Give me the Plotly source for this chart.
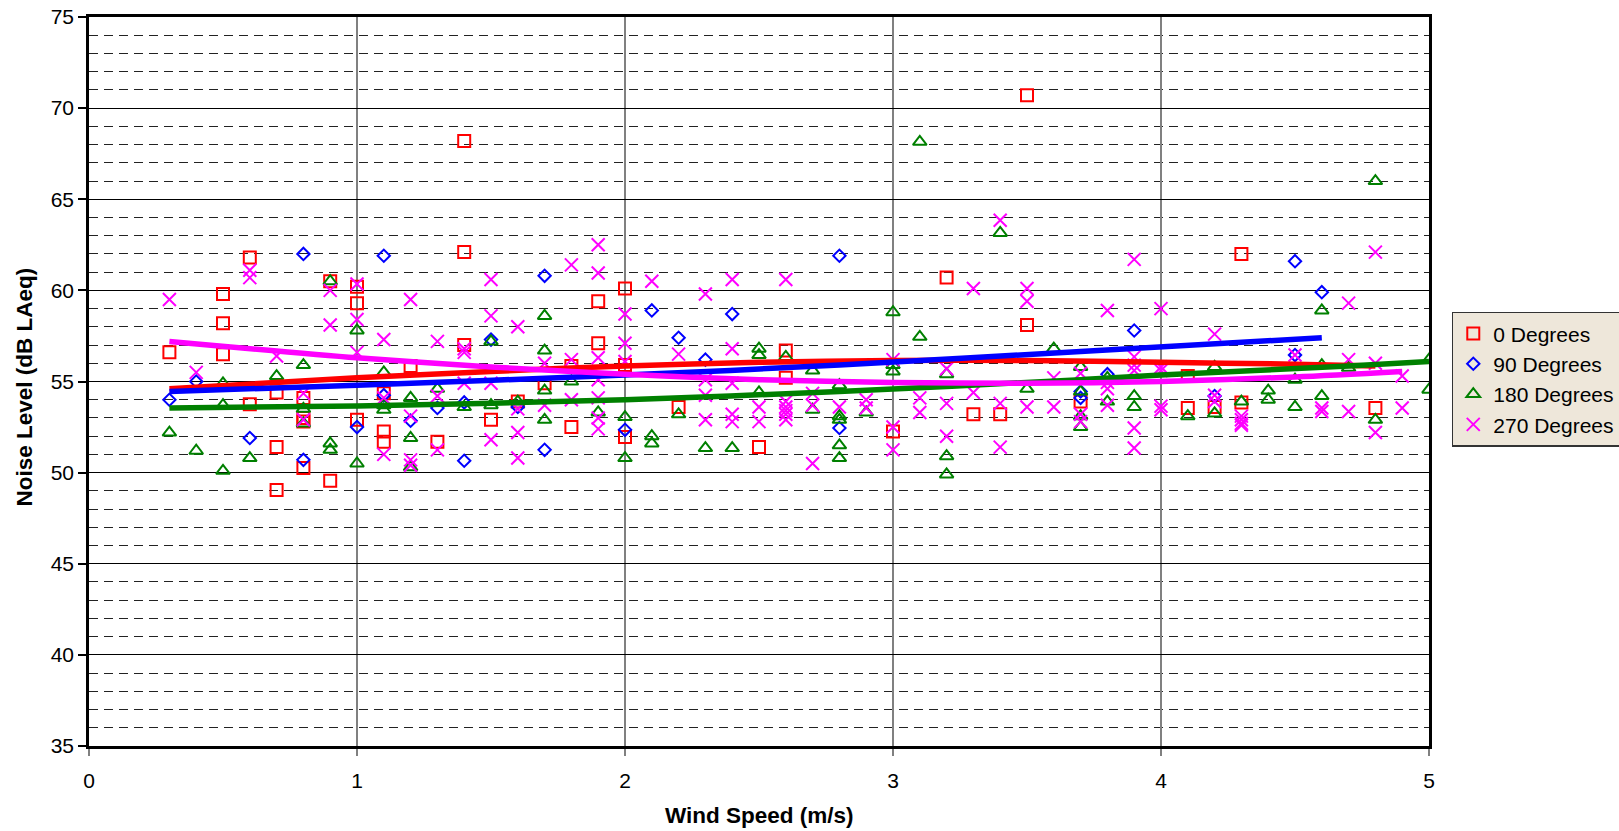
import plotly.graph_objects as go

# ---------------- data ----------------
deg0_x = [0.3, 0.5, 0.5, 0.5, 0.6, 0.6, 0.7, 0.7, 0.7, 0.8, 0.8, 0.8, 0.8, 0.9, 0.9,
          1.0, 1.0, 1.0, 1.1, 1.1, 1.1, 1.2, 1.3, 1.4, 1.4, 1.4, 1.5, 1.6, 1.7, 1.8, 1.8,
          1.9, 1.9, 2.0, 2.0, 2.0, 2.2, 2.5, 2.6, 2.6, 3.0, 3.2, 3.3, 3.4, 3.5, 3.5, 3.7,
          4.1, 4.1, 4.2, 4.3, 4.3, 4.8]
deg0_y = [56.6, 59.8, 58.2, 56.5, 61.8, 53.75, 54.4, 51.4, 49.05, 54.1, 53.0, 52.8, 50.25, 60.5, 49.55,
          60.2, 59.3, 52.9, 54.35, 52.25, 51.7, 55.85, 51.7, 68.2, 62.1, 57.0, 52.9, 53.9, 54.9, 55.85, 52.5,
          59.4, 57.1, 60.1, 55.9, 51.95, 53.6, 51.4, 56.7, 55.2, 52.25, 60.7, 53.2, 53.2, 70.7, 58.1, 53.9,
          55.3, 53.55, 53.6, 62.0, 53.85, 53.55]

deg90_x = [0.3, 0.4, 0.6, 0.8, 0.8, 1.0, 1.1, 1.1, 1.2, 1.3, 1.4, 1.4, 1.5, 1.6, 1.7, 1.7,
           2.0, 2.1, 2.2, 2.3, 2.4, 2.8, 2.8, 3.7, 3.7, 3.8, 3.9, 4.2, 4.5, 4.5, 4.6]
deg90_y = [54.0, 55.0, 51.9, 62.0, 50.7, 52.5, 61.9, 54.25, 52.85, 53.55, 53.85, 50.65, 57.3, 53.6, 60.8, 51.25,
           52.35, 58.9, 57.4, 56.2, 58.7, 61.9, 52.45, 54.45, 54.1, 55.4, 57.8, 54.2, 61.6, 56.45, 59.9]

deg180_x = [0.3, 0.4, 0.5, 0.5, 0.5, 0.6, 0.7, 0.8, 0.8, 0.8, 0.9, 0.9, 0.9, 1.0, 1.0,
            1.1, 1.1, 1.1, 1.2, 1.2, 1.2, 1.3, 1.4, 1.5, 1.5, 1.6, 1.7, 1.7, 1.7, 1.7, 1.8,
            1.9, 2.0, 2.0, 2.1, 2.1, 2.2, 2.3, 2.4, 2.5, 2.5, 2.5, 2.6, 2.7, 2.7,
            2.8, 2.8, 2.8, 2.8, 2.8, 2.9, 3.0, 3.0, 3.0, 3.1, 3.1, 3.2, 3.2, 3.2, 3.4, 3.5, 3.6,
            3.7, 3.7, 3.7, 3.7, 3.8, 3.8, 3.9, 3.9, 4.1, 4.2, 4.2, 4.3, 4.4, 4.4, 4.5, 4.5,
            4.6, 4.6, 4.6, 4.7, 4.8, 4.8, 5.0, 5.0]
deg180_y = [52.2, 51.2, 54.9, 53.7, 50.1, 50.8, 55.3, 55.9, 53.5, 52.7, 60.5, 51.6, 51.25, 57.8, 50.5,
            55.5, 53.7, 53.45, 54.1, 51.9, 50.3, 54.6, 53.6, 57.2, 53.7, 53.9, 58.6, 56.7, 54.5, 52.9, 55.0,
            53.3, 53.05, 50.8, 52.0, 51.6, 53.2, 51.35, 51.35, 56.8, 56.45, 54.4, 56.35, 55.6, 53.45,
            54.8, 53.1, 52.9, 51.5, 50.8, 53.3, 58.8, 55.9, 55.55, 68.15, 57.45, 55.4, 50.9, 49.9, 63.15, 54.6, 56.8,
            55.8, 54.45, 53.1, 52.5, 55.2, 53.9, 54.2, 53.6, 53.1, 55.8, 53.25, 53.9, 54.5, 54.0, 55.1, 53.6,
            58.9, 55.9, 54.2, 55.75, 66.0, 52.9, 56.2, 54.55]

deg270_x = [0.3, 0.4, 0.6, 0.6, 0.7, 0.8, 0.8, 0.9, 0.9, 1.0, 1.0, 1.0, 1.1, 1.1, 1.1,
            1.2, 1.2, 1.2, 1.2, 1.3, 1.3, 1.3, 1.4, 1.4, 1.4, 1.5, 1.5, 1.5, 1.5,
            1.6, 1.6, 1.6, 1.6, 1.7, 1.7, 1.8, 1.8, 1.8, 1.9, 1.9, 1.9, 1.9, 1.9, 1.9, 1.9,
            2.0, 2.0, 2.0, 2.1, 2.2, 2.3, 2.3, 2.3, 2.3, 2.4, 2.4, 2.4, 2.4, 2.4, 2.5, 2.5,
            2.6, 2.6, 2.6, 2.6, 2.6, 2.6, 2.7, 2.7, 2.7, 2.8, 2.9, 2.9, 3.0, 3.0, 3.0,
            3.1, 3.1, 3.2, 3.2, 3.2, 3.3, 3.3, 3.4, 3.4, 3.4, 3.5, 3.5, 3.5, 3.6, 3.6,
            3.7, 3.7, 3.7, 3.8, 3.8, 3.8, 3.8, 3.9, 3.9, 3.9, 3.9, 3.9, 3.9,
            4.0, 4.0, 4.0, 4.0, 4.0, 4.2, 4.2, 4.2, 4.3, 4.3, 4.3, 4.3, 4.5, 4.6, 4.6,
            4.7, 4.7, 4.7, 4.8, 4.8, 4.8, 4.9, 4.9]
deg270_y = [59.5, 55.5, 61.1, 60.7, 56.4, 54.35, 52.9, 60.0, 58.1, 60.35, 58.4, 56.6, 57.3, 54.1, 51.0,
            59.5, 53.1, 50.7, 50.4, 57.2, 54.2, 51.25, 56.8, 56.6, 54.9, 60.6, 58.6, 54.9, 51.8,
            58.0, 53.5, 52.2, 50.8, 56.0, 53.7, 61.4, 56.2, 54.0, 62.5, 60.95, 56.3, 55.1, 54.1, 53.0, 52.4,
            58.7, 57.1, 56.1, 60.5, 56.5, 59.8, 55.1, 54.25, 52.9, 60.6, 56.8, 54.9, 53.2, 52.8, 53.6, 52.8,
            60.6, 53.9, 53.6, 53.4, 53.2, 52.9, 54.35, 53.7, 50.5, 53.6, 54.0, 53.55, 56.2, 52.5, 51.25,
            54.1, 53.3, 55.7, 53.8, 52.0, 60.1, 54.4, 63.85, 53.8, 51.4, 60.1, 59.4, 53.6, 55.2, 53.6,
            55.45, 53.2, 52.8, 58.9, 54.95, 54.6, 53.7, 61.7, 56.35, 55.9, 55.6, 52.45, 51.35,
            59.0, 55.8, 55.6, 53.65, 53.45, 57.6, 54.25, 53.9, 53.1, 52.9, 52.7, 52.6, 56.45, 53.55, 53.35,
            59.3, 56.2, 53.35, 62.1, 56.0, 52.2, 55.3, 53.55]

# trend lines
trend0_x = [0.3, 1.0, 1.5, 2.0, 2.5, 3.0, 3.5, 4.0, 4.5, 4.8]
trend0_y = [54.6, 55.2, 55.55, 55.85, 56.05, 56.15, 56.15, 56.05, 55.95, 55.85]
trend90_x = [0.3, 1.0, 2.0, 2.8, 3.7, 4.6]
trend90_y = [54.45, 54.8, 55.35, 55.9, 56.65, 57.4]
trend180_x = [0.3, 1.0, 2.0, 2.8, 3.7, 4.0, 4.7, 5.0]
trend180_y = [53.55, 53.65, 54.0, 54.45, 55.1, 55.35, 55.85, 56.1]
trend270_x = [0.3, 1.0, 1.5, 2.0, 2.5, 3.0, 3.5, 4.0, 4.5, 4.9]
trend270_y = [57.2, 56.3, 55.8, 55.4, 55.1, 54.95, 54.9, 55.0, 55.25, 55.55]

series_names = ["0 Degrees", "90 Degrees", "180 Degrees", "270 Degrees"]
x_ticks = [0, 1, 2, 3, 4, 5]
y_ticks = [35, 40, 45, 50, 55, 60, 65, 70, 75]

# ---------------- figure ----------------
FONT = "Liberation Sans, Arial, Helvetica, sans-serif"
RED, BLUE, GREEN, MAG = "#FF0000", "#0000FF", "#008000", "#FF00FF"

fig = go.Figure()
fig.add_trace(go.Scatter(x=deg0_x, y=deg0_y, mode="markers", name=series_names[0],
                         marker=dict(symbol="square-open", size=12, color=RED, line=dict(width=2, color=RED))))
fig.add_trace(go.Scatter(x=deg90_x, y=deg90_y, mode="markers", name=series_names[1],
                         marker=dict(symbol="diamond-open", size=9.5, color=BLUE, line=dict(width=2, color=BLUE))))
fig.add_trace(go.Scatter(x=deg180_x, y=deg180_y, mode="markers", name=series_names[2],
                         marker=dict(symbol="triangle-up-open", size=12, color=GREEN, line=dict(width=2, color=GREEN))))
fig.add_trace(go.Scatter(x=deg270_x, y=deg270_y, mode="markers", name=series_names[3],
                         marker=dict(symbol="x-thin-open", size=13, color=MAG, line=dict(width=2, color=MAG))))

for tx, ty, c in [(trend0_x, trend0_y, RED), (trend90_x, trend90_y, BLUE),
                  (trend180_x, trend180_y, GREEN), (trend270_x, trend270_y, MAG)]:
    fig.add_trace(go.Scatter(x=tx, y=ty, mode="lines", showlegend=False, hoverinfo="skip",
                             line=dict(color=c, width=5.5, shape="spline", smoothing=0.8)))

fig.update_xaxes(range=[0, 5], tickvals=x_ticks, ticktext=[str(v) for v in x_ticks],
                 showgrid=True, gridcolor="#808080", gridwidth=1.5,
                 showline=True, linecolor="black", linewidth=2.5, mirror=True,
                 ticks="outside", ticklen=7, tickcolor="#808080", tickwidth=1.5,
                 ticklabelstandoff=7, automargin=False,
                 tickfont=dict(family=FONT, size=21, color="black"), zeroline=False)
fig.update_yaxes(range=[35, 75], tickvals=y_ticks, ticktext=[str(v) for v in y_ticks],
                 showgrid=True, gridcolor="black", gridwidth=1,
                 minor=dict(dtick=1, tick0=35, showgrid=True, gridcolor="#222222", gridwidth=1,
                            griddash="9px,6px", ticks=""),
                 showline=True, linecolor="black", linewidth=2.5, mirror=True,
                 ticks="outside", ticklen=8, tickcolor="black", tickwidth=1.5,
                 automargin=False,
                 tickfont=dict(family=FONT, size=21, color="black"), zeroline=False)

fig.add_annotation(text="<b>Wind Speed (m/s)</b>", xref="paper", yref="paper", x=0.5, y=0,
                   yshift=-69, showarrow=False, yanchor="middle",
                   font=dict(family=FONT, size=22.5, color="black"))
fig.add_annotation(text="<b>Noise Level (dB LAeq)</b>", xref="paper", yref="paper", x=0, y=0.5,
                   xshift=-65, yshift=-6, showarrow=False, textangle=-90, xanchor="center",
                   font=dict(family=FONT, size=22.5, color="black"))

fig.update_layout(
    width=1619, height=831,
    margin=dict(l=89, r=190, t=17, b=85, autoexpand=False),
    paper_bgcolor="white", plot_bgcolor="white",
    showlegend=True,
    legend=dict(x=1.017, y=0.503, xanchor="left", yanchor="middle",
                bgcolor="#EEE7DA", bordercolor="#333333", borderwidth=1.5,
                font=dict(family=FONT, size=21, color="black"),
                itemsizing="trace", tracegroupgap=0, itemwidth=30),
    font=dict(family=FONT),
)

fig.write_html("out.html")
